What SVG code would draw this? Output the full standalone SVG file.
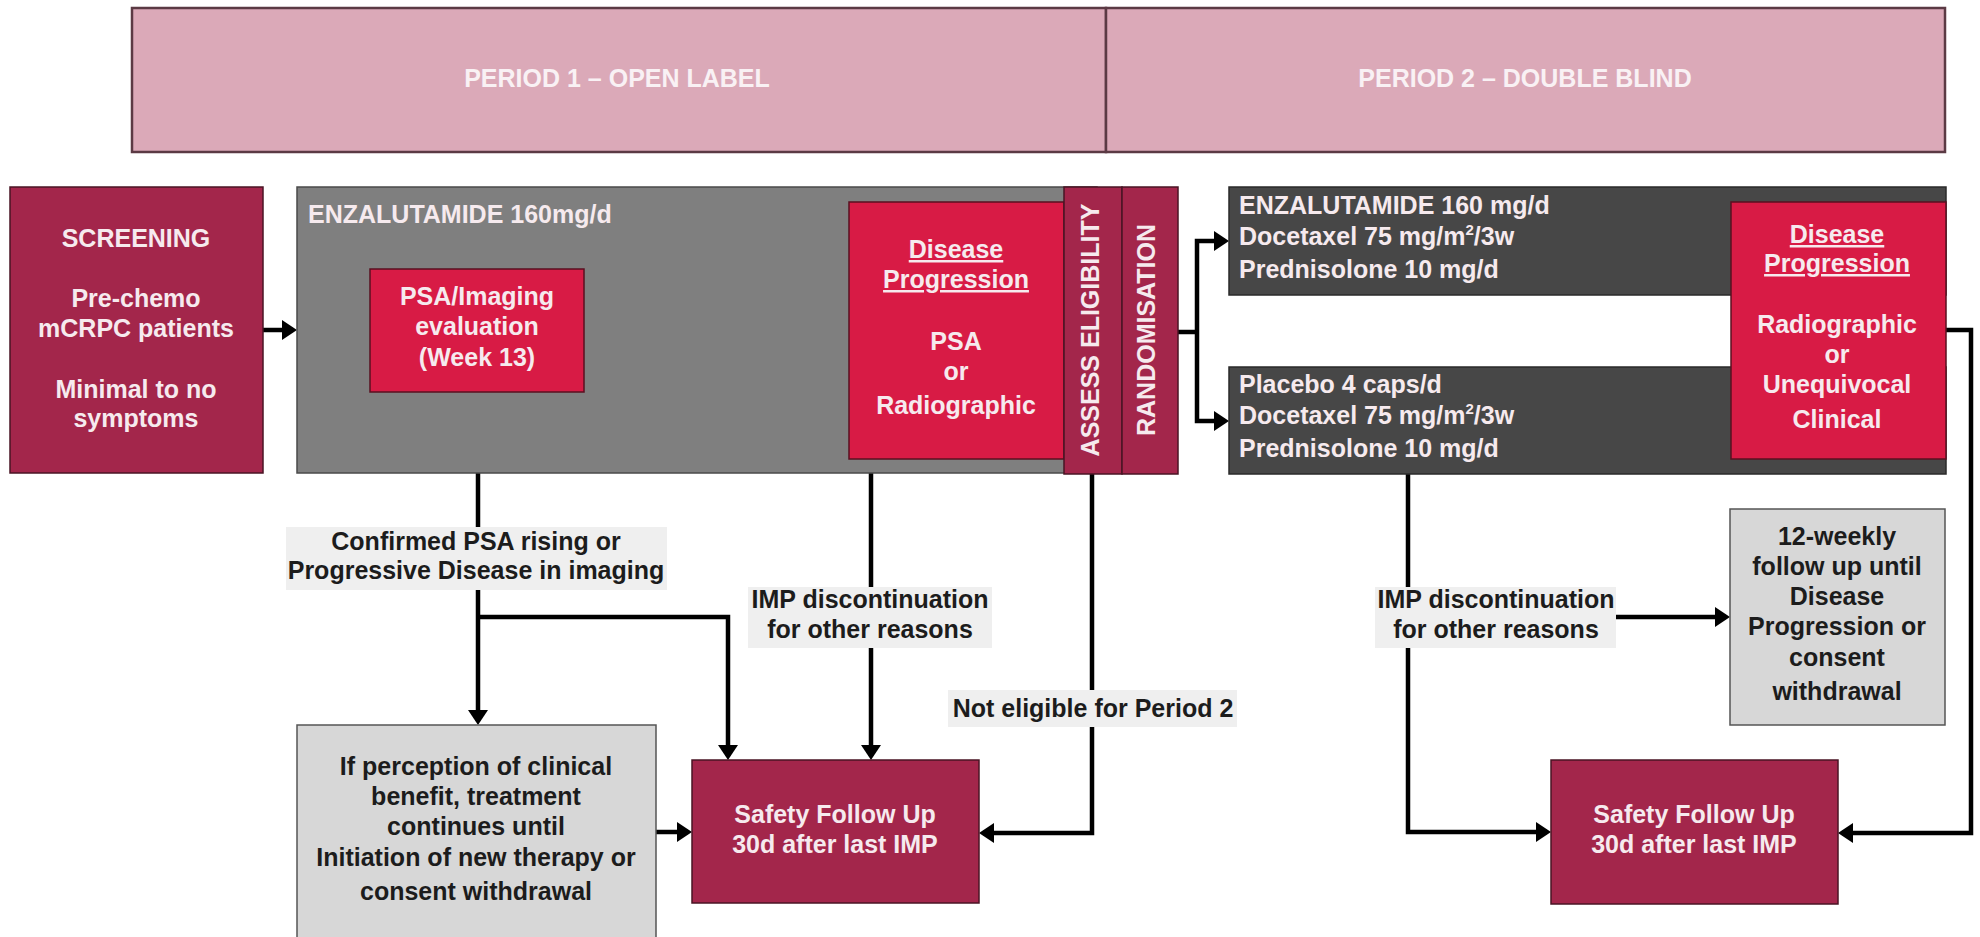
<svg xmlns="http://www.w3.org/2000/svg" width="1980" height="937" viewBox="0 0 1980 937">
<style>
text{font-family:"Liberation Sans",Arial,sans-serif;font-weight:bold;font-size:25px;text-anchor:middle}
.w{fill:#f6eaee}
.k{fill:#1c1c1c}
.l{text-anchor:start}
.maroon{fill:#a3264b;stroke:#4a1424;stroke-width:1.5}
.crimson{fill:#d81b45;stroke:#5a1020;stroke-width:1.5}
.grey{fill:#7f7f7f;stroke:#4a4a4a;stroke-width:1.5}
.dark{fill:#474747;stroke:#2a2a2a;stroke-width:1.5}
.light{fill:#d7d7d7;stroke:#555;stroke-width:1.5}
.lbl{fill:#efefef}
.c{fill:none;stroke:#000;stroke-width:4.5}
.a{marker-end:url(#ah)}
.u{text-decoration:underline}
</style>
<defs>
<marker id="ah" markerUnits="userSpaceOnUse" markerWidth="15" markerHeight="20" refX="11" refY="10" orient="auto">
<path d="M0,0 L15,10 L0,20 z" fill="#000"/>
</marker>
</defs>
<rect width="1980" height="937" fill="#fff"/>

<g id="period1">
<rect x="132" y="8" width="974" height="144" fill="#dba9b8" stroke="#5b3a44" stroke-width="2.5"/>
<text x="617" y="87" fill="#f9f1f4">PERIOD 1 – OPEN LABEL</text>
</g>
<g id="period2">
<rect x="1106" y="8" width="839" height="144" fill="#dba9b8" stroke="#5b3a44" stroke-width="2.5"/>
<text x="1525" y="87" fill="#f9f1f4">PERIOD 2 – DOUBLE BLIND</text>
</g>

<g id="connectors">
<path class="c a" d="M263,330 H293"/>
<path class="c a" d="M478,392 V721"/>
<path class="c a" d="M478,617 H728 V756"/>
<path class="c a" d="M871,459 V756"/>
<path class="c a" d="M1092,474 V833 H983"/>
<path class="c" d="M1178,332 H1197"/>
<path class="c a" d="M1197,332 V241 H1225"/>
<path class="c a" d="M1197,332 V421 H1225"/>
<path class="c a" d="M1408,474 V832 H1547"/>
<path class="c a" d="M1408,617 H1726"/>
<path class="c a" d="M1946,330 H1971 V833 H1842"/>
<path class="c a" d="M656,832 H688"/>
</g>

<g id="labels">
<g id="label-confirmed">
<rect class="lbl" x="286" y="527" width="381" height="63"/>
<text class="k" x="476" y="550">Confirmed PSA rising or</text>
<text class="k" x="476" y="579">Progressive Disease in imaging</text>
</g>
<g id="label-imp1">
<rect class="lbl" x="748" y="587" width="244" height="61"/>
<text class="k" x="870" y="608">IMP discontinuation</text>
<text class="k" x="870" y="638">for other reasons</text>
</g>
<g id="label-noteligible">
<rect class="lbl" x="948" y="690" width="289" height="37"/>
<text class="k" x="1093" y="717">Not eligible for Period 2</text>
</g>
<g id="label-imp2">
<rect class="lbl" x="1375" y="587" width="241" height="61"/>
<text class="k" x="1496" y="608">IMP discontinuation</text>
<text class="k" x="1496" y="638">for other reasons</text>
</g>
</g>

<g id="screening">
<rect class="maroon" x="10" y="187" width="253" height="286"/>
<text class="w" x="136" y="247">SCREENING</text>
<text class="w" x="136" y="307">Pre-chemo</text>
<text class="w" x="136" y="337">mCRPC patients</text>
<text class="w" x="136" y="398">Minimal to no</text>
<text class="w" x="136" y="427">symptoms</text>
</g>

<g id="enzalutamide-p1">
<rect class="grey" x="297" y="187" width="800" height="286"/>
<text class="w l" x="308" y="223">ENZALUTAMIDE 160mg/d</text>
</g>

<g id="psa-imaging">
<rect class="crimson" x="370" y="269" width="214" height="123"/>
<text class="w" x="477" y="305">PSA/Imaging</text>
<text class="w" x="477" y="335">evaluation</text>
<text class="w" x="477" y="366">(Week 13)</text>
</g>

<g id="disease-progression-1">
<rect class="crimson" x="849" y="202" width="215" height="257"/>
<text class="w u" x="956" y="258">Disease</text>
<text class="w u" x="956" y="288">Progression</text>
<text class="w" x="956" y="350">PSA</text>
<text class="w" x="956" y="380">or</text>
<text class="w" x="956" y="414">Radiographic</text>
</g>

<g id="assess-eligibility">
<rect class="maroon" x="1064" y="187" width="58" height="287"/>
<text class="w" transform="translate(1099,330) rotate(-90)">ASSESS ELIGIBILITY</text>
</g>

<g id="randomisation">
<rect class="maroon" x="1122" y="187" width="56" height="287"/>
<text class="w" transform="translate(1155,330) rotate(-90)">RANDOMISATION</text>
</g>

<g id="arm-enzalutamide">
<rect class="dark" x="1229" y="187" width="717" height="108"/>
<text class="w l" x="1239" y="214">ENZALUTAMIDE 160 mg/d</text>
<text class="w l" x="1239" y="245">Docetaxel 75 mg/m<tspan dy="-10" font-size="15">2</tspan><tspan dy="10">/3w</tspan></text>
<text class="w l" x="1239" y="278">Prednisolone 10 mg/d</text>
</g>

<g id="arm-placebo">
<rect class="dark" x="1229" y="367" width="717" height="107"/>
<text class="w l" x="1239" y="393">Placebo 4 caps/d</text>
<text class="w l" x="1239" y="424">Docetaxel 75 mg/m<tspan dy="-10" font-size="15">2</tspan><tspan dy="10">/3w</tspan></text>
<text class="w l" x="1239" y="457">Prednisolone 10 mg/d</text>
</g>

<g id="disease-progression-2">
<rect class="crimson" x="1731" y="202" width="215" height="257"/>
<text class="w u" x="1837" y="243">Disease</text>
<text class="w u" x="1837" y="272">Progression</text>
<text class="w" x="1837" y="333">Radiographic</text>
<text class="w" x="1837" y="363">or</text>
<text class="w" x="1837" y="393">Unequivocal</text>
<text class="w" x="1837" y="428">Clinical</text>
</g>

<g id="clinical-benefit">
<rect class="light" x="297" y="725" width="359" height="220"/>
<text class="k" x="476" y="775">If perception of clinical</text>
<text class="k" x="476" y="805">benefit, treatment</text>
<text class="k" x="476" y="835">continues until</text>
<text class="k" x="476" y="866">Initiation of new therapy or</text>
<text class="k" x="476" y="900">consent withdrawal</text>
</g>

<g id="safety-1">
<rect class="maroon" x="692" y="760" width="287" height="143"/>
<text class="w" x="835" y="823">Safety Follow Up</text>
<text class="w" x="835" y="853">30d after last IMP</text>
</g>

<g id="followup-12w">
<rect class="light" x="1730" y="509" width="215" height="216"/>
<text class="k" x="1837" y="545">12-weekly</text>
<text class="k" x="1837" y="575">follow up until</text>
<text class="k" x="1837" y="605">Disease</text>
<text class="k" x="1837" y="635">Progression or</text>
<text class="k" x="1837" y="666">consent</text>
<text class="k" x="1837" y="700">withdrawal</text>
</g>

<g id="safety-2">
<rect class="maroon" x="1551" y="760" width="287" height="144"/>
<text class="w" x="1694" y="823">Safety Follow Up</text>
<text class="w" x="1694" y="853">30d after last IMP</text>
</g>
</svg>
